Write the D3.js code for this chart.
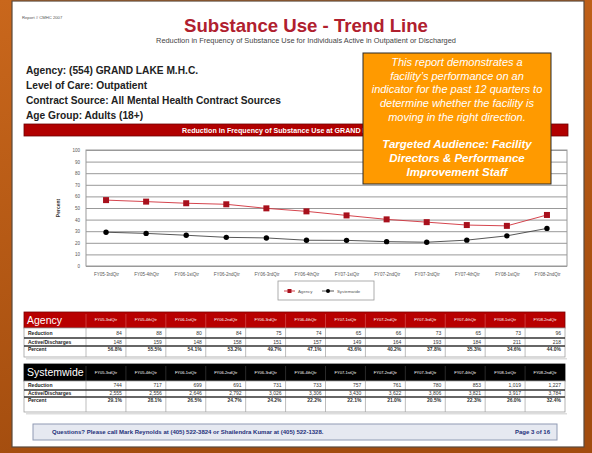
<!DOCTYPE html>
<html>
<head>
<meta charset="utf-8">
<script src="https://cdn.jsdelivr.net/npm/d3@7"></script>
<style>
  body { margin: 0; overflow: hidden; background: #a9510f; }
  svg { display: block; font-family: "Liberation Sans", Arial, sans-serif; }
</style>
</head>
<body>
<svg id="chart" width="592" height="453"></svg>
<script>
//////////////////////////////////////////////////////
/////////////////////// Data /////////////////////////
//////////////////////////////////////////////////////

const quarters = ["FY05-3rdQtr", "FY05-4thQtr", "FY06-1stQtr", "FY06-2ndQtr", "FY06-3rdQtr", "FY06-4thQtr",
                  "FY07-1stQtr", "FY07-2ndQtr", "FY07-3rdQtr", "FY07-4thQtr", "FY08-1stQtr", "FY08-2ndQtr"];

const agencyReduction = [84, 88, 80, 84, 75, 74, 65, 66, 73, 65, 73, 96];
const agencyActive    = [148, 159, 148, 158, 151, 157, 149, 164, 193, 184, 211, 218];
const agencyPercent   = [56.8, 55.5, 54.1, 53.2, 49.7, 47.1, 43.6, 40.2, 37.8, 35.3, 34.6, 44.0];

const systemReduction = [744, 717, 699, 691, 731, 733, 757, 761, 780, 853, 1019, 1227];
const systemActive    = [2555, 2556, 2646, 2792, 3026, 3306, 3430, 3622, 3806, 3821, 3917, 3784];
const systemPercent   = [29.1, 28.1, 26.5, 24.7, 24.2, 22.2, 22.1, 21.0, 20.5, 22.3, 26.0, 32.4];

const yTicks = [0, 10, 20, 30, 40, 50, 60, 70, 80, 90, 100];

const infoLines = ["Agency: (554) GRAND LAKE M.H.C.", "Level of Care:  Outpatient",
                   "Contract Source: All Mental Health Contract Sources", "Age Group: Adults (18+)"];

const noteLines = ["This report demonstrates a", "facility\u2019s performance on an", "indicator for the past 12 quarters to",
                   "determine whether the facility is", "moving in the right direction."];
const audienceLines = ["Targeted Audience: Facility", "Directors & Performance", "Improvement Staff"];

//////////////////////////////////////////////////////
//////////////////// Page frame //////////////////////
//////////////////////////////////////////////////////

const svg = d3.select("#chart");
const defs = svg.append("defs");

const bg = defs.append("linearGradient").attr("id", "bg")
  .attr("x1", "0").attr("y1", "0").attr("x2", "0.3").attr("y2", "1");
bg.append("stop").attr("offset", "0%").attr("stop-color", "#c9671c");
bg.append("stop").attr("offset", "100%").attr("stop-color", "#a24c0e");

svg.append("rect").attr("width", 592).attr("height", 453).attr("fill", "url(#bg)");

//white report page
svg.append("rect")
  .attr("x", 12).attr("y", 1).attr("width", 572).attr("height", 446)
  .attr("fill", "#fff").attr("stroke", "#5a4a3c").attr("stroke-width", 1.2);

//Header texts
svg.append("text").attr("x", 22).attr("y", 19)
  .style("font-size", "4.2px").attr("fill", "#555").text("Report # CMHC 2007");

svg.append("text").attr("x", 306).attr("y", 31.5).attr("text-anchor", "middle")
  .style("font-size", "18.6px").style("font-weight", "bold").attr("fill", "#b0202e")
  .text("Substance Use - Trend Line");

svg.append("text").attr("x", 306).attr("y", 42.5).attr("text-anchor", "middle")
  .style("font-size", "7.4px").attr("fill", "#444")
  .text("Reduction in Frequency of Substance Use for Individuals Active in Outpatient or Discharged");

svg.append("g").selectAll("text")
  .data(infoLines)
  .enter().append("text")
  .attr("x", 26)
  .attr("y", (d, i) => 73.5 + i * 15.3)
  .style("font-size", "10.2px").style("font-weight", "bold").attr("fill", "#222")
  .text(d => d);

//////////////////////////////////////////////////////
//////////////////// Line chart //////////////////////
//////////////////////////////////////////////////////

const plot = {left: 86, right: 567, top: 150, bottom: 266};

//Red chart title bar
svg.append("rect")
  .attr("x", 24).attr("y", 124).attr("width", 544).attr("height", 12)
  .attr("fill", "#b10000").attr("stroke", "#6e0000").attr("stroke-width", 0.8);
svg.append("text").attr("x", 294).attr("y", 132.5).attr("text-anchor", "middle")
  .style("font-size", "7.1px").style("font-weight", "bold").attr("fill", "#fff")
  .text("Reduction in Frequency of Substance Use at GRAND LAKE M.H.C.");

const x = d3.scalePoint().domain(quarters).range([plot.left, plot.right]).padding(0.5);
const y = d3.scaleLinear().domain([0, 100]).range([plot.bottom, plot.top]);

//Gridlines + y labels
const yAxis = svg.append("g")
  .attr("transform", `translate(${plot.left},0)`)
  .call(d3.axisLeft(y).tickValues(yTicks).tickSize(-(plot.right - plot.left)).tickPadding(6));
yAxis.select(".domain").remove();
yAxis.selectAll("line").attr("stroke", "#8d8d8d").attr("stroke-width", 0.9);
yAxis.selectAll("text").style("font-size", "4.5px").attr("fill", "#555").style("font-family", "inherit");

//plot border
svg.append("rect")
  .attr("x", plot.left).attr("y", plot.top)
  .attr("width", plot.right - plot.left).attr("height", plot.bottom - plot.top)
  .attr("fill", "none").attr("stroke", "#9a9a9a").attr("stroke-width", 1);

//x labels
const xAxis = svg.append("g")
  .attr("transform", `translate(0,${plot.bottom})`)
  .call(d3.axisBottom(x).tickSize(0).tickPadding(7));
xAxis.select(".domain").remove();
xAxis.selectAll("text").style("font-size", "4.5px").attr("fill", "#555").style("font-family", "inherit");

svg.append("text")
  .attr("transform", `translate(60,${(plot.top + plot.bottom) / 2}) rotate(-90)`)
  .attr("text-anchor", "middle")
  .style("font-size", "5px").style("font-weight", "bold").attr("fill", "#333")
  .text("Percent");

const line = d3.line().x((d, i) => x(quarters[i])).y(d => y(d));

//Systemwide
svg.append("path").datum(systemPercent)
  .attr("d", line).attr("fill", "none").attr("stroke", "#444").attr("stroke-width", 0.9);
svg.append("g").selectAll("circle")
  .data(systemPercent)
  .enter().append("circle")
  .attr("cx", (d, i) => x(quarters[i])).attr("cy", d => y(d))
  .attr("r", 2.7).attr("fill", "#000");

//Agency
svg.append("path").datum(agencyPercent)
  .attr("d", line).attr("fill", "none").attr("stroke", "#d0303a").attr("stroke-width", 0.9);
svg.append("g").selectAll("rect")
  .data(agencyPercent)
  .enter().append("rect")
  .attr("x", (d, i) => x(quarters[i]) - 3).attr("y", d => y(d) - 3)
  .attr("width", 6).attr("height", 6).attr("fill", "#a8101c");

//Legend
const legend = svg.append("g").attr("transform", "translate(278,281)");
legend.append("rect").attr("width", 96).attr("height", 19)
  .attr("fill", "#fff").attr("stroke", "#999").attr("stroke-width", 0.8);
const agencyItem = legend.append("g").attr("transform", "translate(6,10)");
agencyItem.append("line").attr("x1", 0).attr("x2", 11).attr("stroke", "#d0303a").attr("stroke-width", 0.9);
agencyItem.append("rect").attr("x", 3.5).attr("y", -2).attr("width", 4).attr("height", 4).attr("fill", "#a8101c");
agencyItem.append("text").attr("x", 14).attr("dy", "0.35em").style("font-size", "4.3px").attr("fill", "#555").text("Agency");
const sysItem = legend.append("g").attr("transform", "translate(44,10)");
sysItem.append("line").attr("x1", 0).attr("x2", 12).attr("stroke", "#444").attr("stroke-width", 0.9);
sysItem.append("circle").attr("cx", 6).attr("r", 2).attr("fill", "#000");
sysItem.append("text").attr("x", 15).attr("dy", "0.35em").style("font-size", "4.3px").attr("fill", "#555").text("Systemwide");

//////////////////////////////////////////////////////
////////////////////// Tables ////////////////////////
//////////////////////////////////////////////////////

const col = d3.scaleBand().domain(quarters).range([86, 565]);
const fmtInt = d3.format(",");
const fmtPct = d => d.toFixed(1) + "%";

function drawTable(top, headH, rowH, headColor, title, reduction, active, percent) {
  const g = svg.append("g");
  const rowTops = [top + headH, top + headH + rowH[0], top + headH + rowH[0] + rowH[1]];
  const bottom = rowTops[2] + rowH[2];

  //header band
  g.append("rect").attr("x", 24).attr("y", top).attr("width", 541).attr("height", headH)
    .attr("fill", headColor).attr("stroke", headColor === "#000" ? "#000" : "#7a0000").attr("stroke-width", 0.8);
  g.append("text").attr("x", 27).attr("y", top + headH / 2).attr("dy", "0.36em")
    .style("font-size", "10.5px").attr("fill", "#fff").text(title);

  //column separators in header
  g.selectAll(".hsep").data(quarters).enter().append("line")
    .attr("x1", d => col(d)).attr("x2", d => col(d))
    .attr("y1", top + 2).attr("y2", top + headH)
    .attr("stroke", headColor === "#000" ? "#555" : "#e07070").attr("stroke-width", 0.5);

  g.selectAll(".hlab").data(quarters).enter().append("text")
    .attr("x", d => col(d) + col.bandwidth() / 2).attr("y", top + headH / 2).attr("dy", "0.35em")
    .attr("text-anchor", "middle").style("font-size", "4px").attr("fill", "#fff")
    .text(d => d);

  //body
  g.append("rect").attr("x", 24).attr("y", top + headH).attr("width", 541).attr("height", bottom - top - headH)
    .attr("fill", "#fff").attr("stroke", "#a0a0a0").attr("stroke-width", 0.8);
  g.selectAll(".vsep").data(quarters).enter().append("line")
    .attr("x1", d => col(d)).attr("x2", d => col(d))
    .attr("y1", top + headH).attr("y2", bottom)
    .attr("stroke", "#a0a0a0").attr("stroke-width", 0.7);
  g.selectAll(".rsep").data([rowTops[1], rowTops[2]]).enter().append("line")
    .attr("x1", 24).attr("x2", 565).attr("y1", d => d).attr("y2", d => d)
    .attr("stroke", "#333").attr("stroke-width", 1.3);

  //shadow line under table
  g.append("line").attr("x1", 26).attr("x2", 567).attr("y1", bottom + 1.8).attr("y2", bottom + 1.8)
    .attr("stroke", "#ddd").attr("stroke-width", 1.5);

  const rows = [
    {label: "Reduction", values: reduction.map(fmtInt), bold: false, yy: rowTops[0] + rowH[0] / 2},
    {label: "Active/Discharges", values: active.map(fmtInt), bold: false, yy: rowTops[1] + rowH[1] / 2},
    {label: "Percent", values: percent.map(fmtPct), bold: true, yy: rowTops[2] + 3.5}
  ];
  rows.forEach(r => {
    g.append("text").attr("x", 28).attr("y", r.yy).attr("dy", "0.35em")
      .style("font-size", "5px").style("font-weight", "bold").attr("fill", "#222").text(r.label);
    g.selectAll(null).data(r.values).enter().append("text")
      .attr("x", (d, i) => col(quarters[i]) + col.bandwidth() - 4).attr("y", r.yy).attr("dy", "0.35em")
      .attr("text-anchor", "end").style("font-size", "5px")
      .style("font-weight", r.bold ? "bold" : "normal").attr("fill", "#333")
      .text(d => d);
  });
}

drawTable(312, 16, [10, 8, 11], "#b80000", "Agency", agencyReduction, agencyActive, agencyPercent);
drawTable(364, 17, [9, 7, 15], "#000", "Systemwide", systemReduction, systemActive, systemPercent);

//////////////////////////////////////////////////////
////////////////////// Footer ////////////////////////
//////////////////////////////////////////////////////

svg.append("rect").attr("x", 33).attr("y", 424).attr("width", 524).attr("height", 16)
  .attr("fill", "#e6e9f1").attr("stroke", "#8f9ab3").attr("stroke-width", 1);
svg.append("text").attr("x", 52).attr("y", 432).attr("dy", "0.35em")
  .style("font-size", "6px").style("font-weight", "bold").attr("fill", "#24307a")
  .text("Questions? Please call Mark Reynolds at (405) 522-3824 or Shailendra Kumar at (405) 522-1328.");
svg.append("text").attr("x", 550).attr("y", 432).attr("dy", "0.35em").attr("text-anchor", "end")
  .style("font-size", "6px").style("font-weight", "bold").attr("fill", "#24307a")
  .text("Page 3 of 16");

//////////////////////////////////////////////////////
/////////////////// Callout box //////////////////////
//////////////////////////////////////////////////////

const note = svg.append("g");
note.append("rect").attr("x", 363).attr("y", 53).attr("width", 188).attr("height", 131)
  .attr("fill", "#ff9a00").attr("stroke", "#2a2a2a").attr("stroke-width", 1);
note.selectAll(".n1").data(noteLines).enter().append("text")
  .attr("x", 457).attr("y", (d, i) => 62 + i * 13.8).attr("dy", "0.35em")
  .attr("text-anchor", "middle").style("font-size", "11px").style("font-style", "italic")
  .attr("fill", "#fff").text(d => d);
note.selectAll(".n2").data(audienceLines).enter().append("text")
  .attr("x", 457).attr("y", (d, i) => 144 + i * 14).attr("dy", "0.35em")
  .attr("text-anchor", "middle").style("font-size", "11.5px").style("font-style", "italic").style("font-weight", "bold")
  .attr("fill", "#fff").text(d => d);
</script>
</body>
</html>
